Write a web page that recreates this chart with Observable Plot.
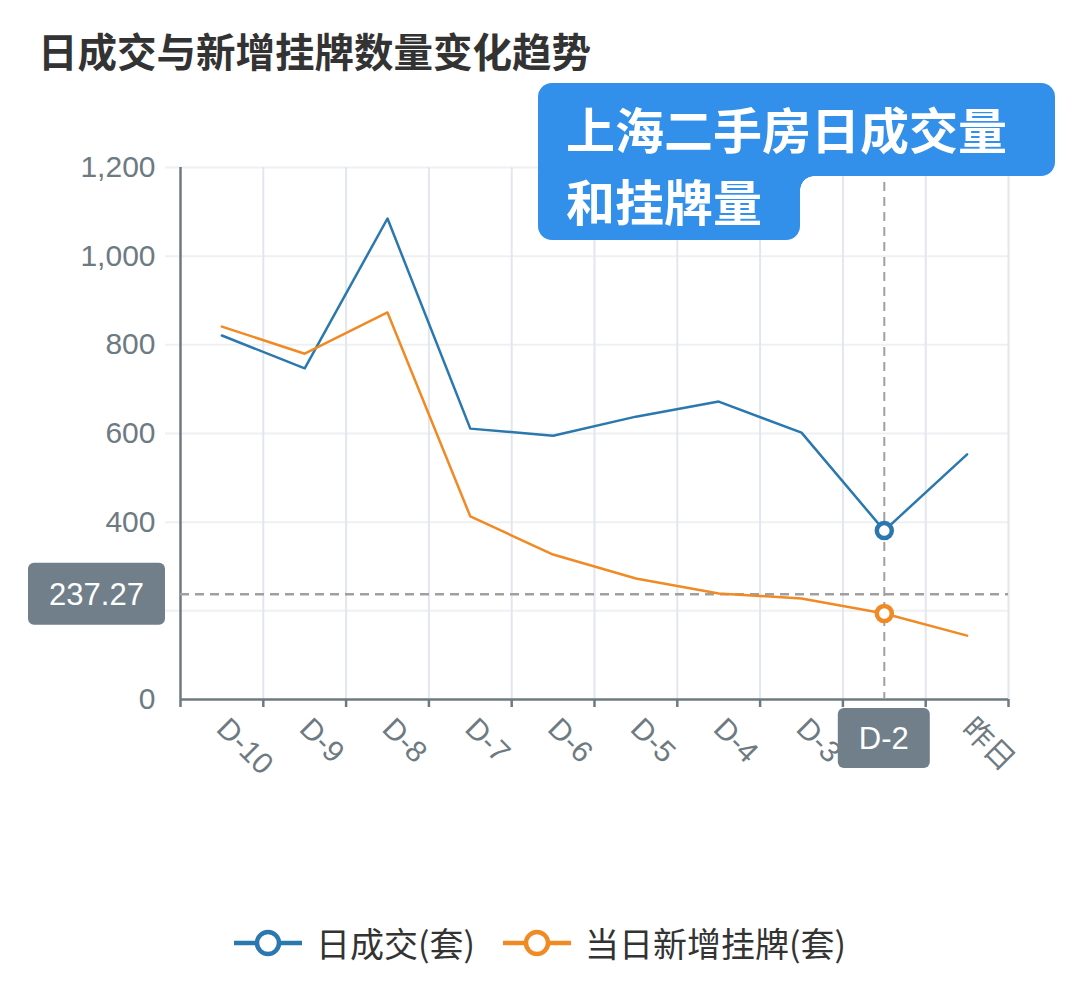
<!DOCTYPE html>
<html><head><meta charset="utf-8">
<script src="https://cdn.jsdelivr.net/npm/d3@7"></script>
<script src="https://cdn.jsdelivr.net/npm/@observablehq/plot@0.6"></script>
<style>
body{margin:0;background:#fff;font-family:"Liberation Sans","Noto Sans CJK SC",sans-serif;}
#wrap{position:relative;width:1080px;height:991px;overflow:hidden;}
#title{height:80px;box-sizing:border-box;padding:30px 0 0 38px;font:bold 39.5px/40px "Noto Sans CJK SC",sans-serif;color:#333;}
#chart svg{display:block;}
#callout{position:absolute;left:538px;top:83px;width:517px;height:157px;}
#callout .b1{position:absolute;left:0;top:0;width:517px;height:93px;background:#3390ea;border-radius:14px 14px 14px 0;}
#callout .b2{position:absolute;left:0;top:92px;width:262px;height:65px;background:#3390ea;border-radius:0 0 14px 14px;}
#callout .cc{position:absolute;left:262px;top:93px;width:14px;height:14px;background:radial-gradient(circle at 100% 100%, transparent 13.5px, #3390ea 14px);}
#callout .ln{position:absolute;left:28px;height:49px;font:bold 49px/49px "Noto Sans CJK SC",sans-serif;color:#fff;white-space:nowrap;overflow:visible;}
#callout .ln1{top:20px;}
#callout .ln2{top:92px;}
#legend{position:absolute;left:0;top:923px;width:1080px;height:40px;display:flex;justify-content:center;align-items:center;font:34px/40px "Noto Sans CJK SC",sans-serif;color:#333;}
#legend .item{display:flex;align-items:center;margin:0 14px;}
#legend svg{margin-right:14px;}
</style></head>
<body>
<div id="wrap">
  <div id="title"></div>
  <div id="chart"></div>
  <div id="callout"><div class="b1"></div><div class="b2"></div><div class="cc"></div><div class="ln ln1"></div><div class="ln ln2"></div></div>
  <div id="legend"></div>
</div>
<script>
// ---- data ----
const titleText = "日成交与新增挂牌数量变化趋势";
const calloutLines = ["上海二手房日成交量", "和挂牌量"];
const categories = ["D-10","D-9","D-8","D-7","D-6","D-5","D-4","D-3","D-2","昨日"];
const dealValues = [821, 747, 1085, 611, 595, 638, 672, 602, 381, 553];
const listingValues = [841, 780, 873, 413, 327, 273, 239, 228, 194, 144];
const seriesNames = ["日成交(套)", "当日新增挂牌(套)"];
const seriesColors = ["#2a78ae", "#f08a24"];
const yTicks = [0, 200, 400, 600, 800, 1000, 1200];
const crossCategory = "D-2";
const crossValue = 237.27;

// ---- layout ----
const W = 1080, H = 720;
const mL = 180, mR = 72, mT = 87, mB = 101;
const bw = (W - mL - mR) / categories.length;
const axisColor = "#6e7a82";
const labelColor = "#6e7a82";
const fontFam = '"Liberation Sans","Noto Sans CJK SC",sans-serif';

document.getElementById("title").textContent = titleText;
document.querySelector("#callout .ln1").textContent = calloutLines[0];
document.querySelector("#callout .ln2").textContent = calloutLines[1];

const rows = (vals, s) => categories.map((c, i) => ({cat: c, value: vals[i], series: s}));
const deal = rows(dealValues, seriesNames[0]);
const listing = rows(listingValues, seriesNames[1]);
const ci = categories.indexOf(crossCategory);

// the crosshair's value box hides the y tick label it covers
const yBoxHalf = 31;
function labelBoxes(index, scales) {
  const sx = scales.x, sy = scales.y;
  const band = typeof sx.bandwidth === "function" ? sx.bandwidth() : (sx.bandwidth ?? bw);
  const cx = sx(crossCategory) + band / 2;
  const cy = sy(crossValue);
  const y0 = sy(0);
  const g = d3.create("svg:g");
  const fill = "#717f8b";
  g.append("rect").attr("x", 28).attr("y", cy - yBoxHalf).attr("width", 137).attr("height", 2 * yBoxHalf)
    .attr("rx", 6).attr("fill", fill);
  g.append("text").attr("x", 28 + 137 / 2).attr("y", cy).attr("dy", "0.35em")
    .attr("text-anchor", "middle").attr("fill", "#fff").attr("font-size", 31)
    .attr("font-family", fontFam).text(d3.format(".2f")(crossValue));
  g.append("rect").attr("x", cx - 46).attr("y", y0 + 9).attr("width", 92).attr("height", 60)
    .attr("rx", 6).attr("fill", fill);
  g.append("text").attr("x", cx).attr("y", y0 + 39).attr("dy", "0.35em")
    .attr("text-anchor", "middle").attr("fill", "#fff").attr("font-size", 31)
    .attr("font-family", fontFam).text(crossCategory);
  return g.node();
}

const yScaleFor = v => (H - mB) - (v / 1200) * (H - mT - mB);
const visibleYLabels = yTicks.filter(v => Math.abs(yScaleFor(v) - yScaleFor(crossValue)) > yBoxHalf + 10);

const chart = Plot.plot({
  width: W, height: H,
  marginLeft: mL, marginRight: mR, marginTop: mT, marginBottom: mB,
  style: {fontFamily: fontFam, background: "#fff", color: axisColor, overflow: "visible"},
  x: {type: "band", domain: categories, padding: 0, round: false},
  y: {domain: [0, 1200]},
  marks: [
    Plot.ruleY(yTicks.filter(d => d > 0), {stroke: "#eef0f3", strokeWidth: 2, insetLeft: -15}),
    Plot.ruleX(categories, {dx: bw / 2, stroke: "#e2e6ee", strokeWidth: 2}),
    Plot.ruleY([0], {stroke: axisColor, strokeWidth: 2.5}),
    Plot.ruleX([categories[0]], {dx: -bw / 2, stroke: axisColor, strokeWidth: 2.5, insetBottom: -8}),
    Plot.axisX({dx: bw / 2, tickSize: 8, tickFormat: () => "", stroke: axisColor, strokeWidth: 2.5, label: null}),
    Plot.axisX({tickSize: 0, tickRotate: 45, tickPadding: 24, fontSize: 30, fill: labelColor, label: null}),
    Plot.axisY({ticks: visibleYLabels, tickSize: 0, tickPadding: 25, tickFormat: d3.format(","), fontSize: 30, fill: labelColor, label: null}),
    Plot.ruleX([crossCategory], {stroke: "#a0a0a0", strokeWidth: 2, strokeDasharray: "9,6"}),
    Plot.ruleY([crossValue], {stroke: "#a0a0a0", strokeWidth: 2.5, strokeDasharray: "9,6"}),
    Plot.line(deal, {x: "cat", y: "value", stroke: seriesColors[0], strokeWidth: 2.5}),
    Plot.line(listing, {x: "cat", y: "value", stroke: seriesColors[1], strokeWidth: 2.5}),
    Plot.dot([deal[ci]], {x: "cat", y: "value", r: 7.5, stroke: seriesColors[0], strokeWidth: 4.5, fill: "#fff"}),
    Plot.dot([listing[ci]], {x: "cat", y: "value", r: 7.5, stroke: seriesColors[1], strokeWidth: 4.5, fill: "#fff"}),
    labelBoxes
  ]
});
document.getElementById("chart").appendChild(chart);

const leg = document.getElementById("legend");
seriesNames.forEach((name, i) => {
  const item = document.createElement("div");
  item.className = "item";
  item.innerHTML = `<svg width="68" height="30" viewBox="0 0 68 30"><line x1="0" y1="15" x2="68" y2="15" stroke="${seriesColors[i]}" stroke-width="4.5"/><circle cx="34" cy="15" r="11" fill="#fff" stroke="${seriesColors[i]}" stroke-width="4.5"/></svg><span>${name}</span>`;
  leg.appendChild(item);
});
</script>
</body></html>
